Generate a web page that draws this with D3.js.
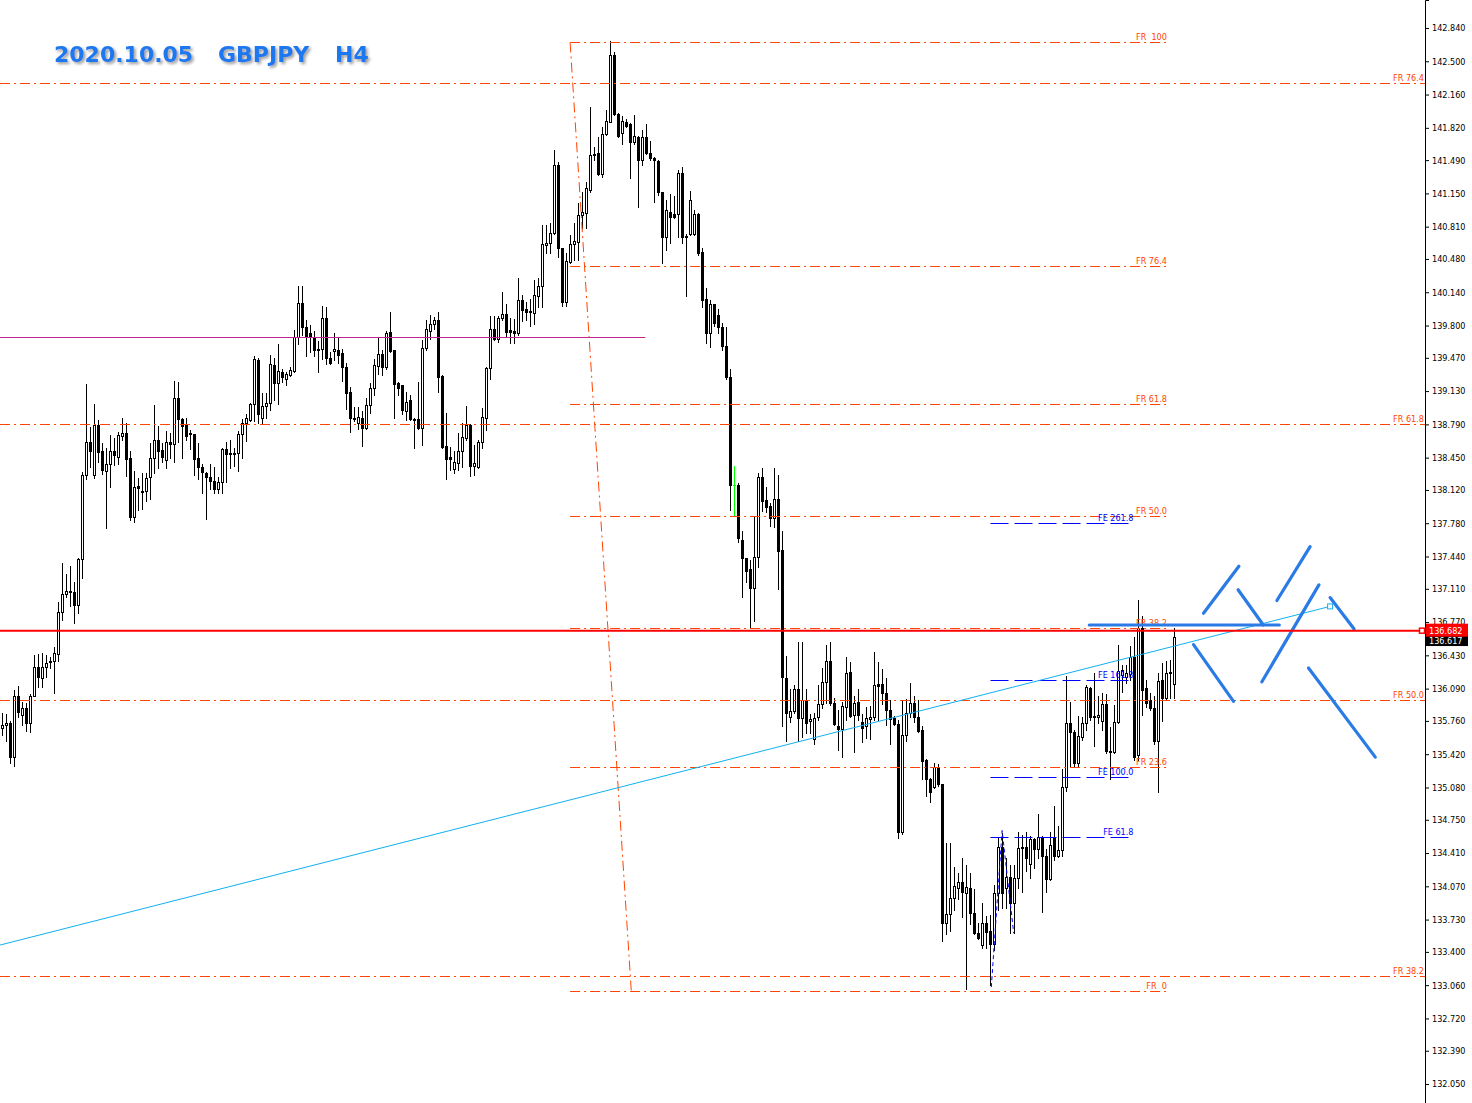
<!DOCTYPE html>
<html><head><meta charset="utf-8">
<script src="https://cdn.jsdelivr.net/npm/d3@7"></script>
<style>html,body{margin:0;padding:0;background:#fff;overflow:hidden}
text{white-space:pre}</style>
</head><body><svg id="c" width="1472" height="1103"></svg>
<script>
// ---------------- data ----------------
const ohlc = [
[135.69,135.84,135.62,135.72],[135.72,135.83,135.55,135.74],[135.74,135.76,135.33,135.39],[135.39,136.08,135.30,136.01],
[136.01,136.12,135.80,135.85],[135.82,135.95,135.72,135.89],[135.89,135.94,135.66,135.74],[135.74,136.03,135.65,136.01],
[136.01,136.43,136.01,136.31],[136.31,136.44,136.11,136.21],[136.20,136.45,136.11,136.31],[136.31,136.43,136.21,136.35],
[136.37,136.41,136.30,136.36],[136.37,136.52,136.05,136.45],[136.44,136.98,136.37,136.87],[136.87,137.37,136.79,137.06],
[137.06,137.26,137.03,137.09],[137.09,137.34,136.93,137.08],[137.08,137.18,136.76,136.94],[136.94,137.42,136.86,137.41],
[137.41,138.30,137.22,138.27],[138.27,139.20,138.23,138.61],[138.61,138.76,138.35,138.52],[138.27,139.00,138.24,138.78],
[138.78,138.83,138.41,138.51],[138.52,138.60,138.28,138.32],[138.31,138.55,137.73,138.38],[138.38,138.68,138.15,138.52],
[138.52,138.65,138.37,138.48],[138.46,138.71,138.39,138.68],[138.67,138.86,138.63,138.70],[138.70,138.80,138.26,138.44],
[138.45,138.52,137.81,137.84],[137.84,138.31,137.79,138.15],[138.16,138.24,137.92,138.14],[138.11,138.29,137.93,138.10],
[138.11,138.29,138.01,138.24],[138.25,138.60,138.03,138.45],[138.45,138.99,138.29,138.63],[138.63,138.77,138.34,138.52],
[138.53,138.60,138.41,138.46],[138.43,138.72,138.34,138.61],[138.61,138.70,138.45,138.59],[138.59,139.23,138.41,139.06],
[139.06,139.22,138.61,138.84],[138.84,138.86,138.45,138.77],[138.78,138.85,138.63,138.67],[138.70,138.73,138.54,138.69],
[138.69,138.69,138.27,138.44],[138.45,138.60,138.23,138.35],[138.35,138.39,138.09,138.30],[138.29,138.30,137.82,138.25],
[138.25,138.38,138.13,138.21],[138.21,138.35,138.09,138.13],[138.13,138.25,138.09,138.20],[138.20,138.55,138.09,138.54],
[138.54,138.61,138.20,138.49],[138.50,138.63,138.34,138.49],[138.50,138.55,138.36,138.49],[138.50,138.72,138.31,138.69],
[138.69,138.84,138.45,138.80],[138.80,138.90,138.62,138.85],[138.83,139.01,138.82,139.00],[139.00,139.49,138.82,139.46],
[139.45,139.47,138.80,138.90],[138.86,139.11,138.80,138.98],[138.98,139.11,138.85,139.01],[139.01,139.50,138.94,139.41],
[139.40,139.47,139.04,139.21],[139.21,139.61,139.00,139.34],[139.33,139.36,139.22,139.27],[139.25,139.33,139.19,139.30],
[139.29,139.38,139.28,139.35],[139.34,139.75,139.32,139.68],[139.68,140.20,139.61,140.03],[140.03,140.20,139.70,139.78],
[139.78,139.86,139.49,139.69],[139.72,139.81,139.53,139.68],[139.68,139.74,139.49,139.55],[139.56,139.64,139.33,139.55],
[139.56,140.00,139.46,139.88],[139.88,139.99,139.41,139.47],[139.47,139.53,139.41,139.42],[139.54,139.72,139.45,139.56],
[139.55,139.67,139.42,139.50],[139.52,139.56,139.23,139.38],[139.38,139.42,138.95,139.11],[139.12,139.17,138.71,138.85],
[138.84,138.97,138.82,138.86],[138.80,138.97,138.74,138.87],[138.86,138.93,138.57,138.75],[138.75,139.06,138.74,138.99],
[138.99,139.21,138.91,139.16],[139.16,139.46,139.09,139.40],[139.39,139.68,139.30,139.51],[139.51,139.55,139.29,139.38],
[139.38,139.74,139.36,139.72],[139.73,139.94,139.53,139.54],[139.55,139.55,138.85,139.20],[139.21,139.22,139.09,139.16],
[139.19,139.19,138.90,138.94],[138.93,139.12,138.83,139.02],[139.04,139.09,138.83,138.84],[138.84,138.85,138.55,138.83],
[138.84,139.22,138.74,138.75],[138.75,139.65,138.58,139.57],[139.57,139.86,139.55,139.76],[139.74,139.91,139.66,139.82],
[139.82,139.89,139.76,139.86],[139.86,139.94,139.12,139.27],[139.28,139.29,138.55,138.56],[138.57,138.91,138.23,138.44],
[138.46,138.56,138.32,138.44],[138.33,138.52,138.29,138.41],[138.40,138.70,138.32,138.52],[138.52,138.80,138.35,138.66],
[138.65,138.98,138.63,138.78],[138.78,138.79,138.26,138.36],[138.36,138.58,138.27,138.40],[138.35,138.63,138.34,138.61],
[138.61,138.96,138.55,138.87],[138.86,139.38,138.73,139.37],[139.37,139.90,139.25,139.76],[139.76,139.90,139.65,139.66],
[139.66,139.90,139.63,139.88],[139.88,140.14,139.86,139.92],[139.92,140.02,139.68,139.73],[139.75,139.88,139.62,139.73],
[139.74,139.87,139.62,139.72],[139.72,140.29,139.70,140.06],[140.06,140.11,139.85,139.96],[139.97,140.04,139.86,139.94],
[139.95,140.07,139.80,139.94],[139.93,140.27,139.82,140.11],[140.10,140.29,139.99,140.20],[140.20,140.83,139.99,140.63],
[140.62,140.83,140.54,140.64],[140.64,140.85,140.54,140.75],[140.75,141.59,140.73,141.44],[141.44,141.47,140.50,140.59],
[140.59,140.59,140.00,140.04],[140.04,140.54,140.00,140.46],[140.45,140.72,140.44,140.63],[140.63,140.85,140.47,140.66],
[140.65,141.05,140.47,140.93],[140.93,141.16,140.80,140.96],[140.95,141.27,140.80,141.20],[141.18,142.03,141.16,141.54],
[141.54,141.62,141.49,141.55],[141.56,141.73,141.34,141.35],[141.35,141.83,141.32,141.76],[141.76,142.00,141.75,141.89],
[141.88,142.71,141.88,142.56],[142.56,142.59,141.95,141.96],[141.96,141.97,141.73,141.74],[141.77,141.94,141.65,141.89],
[141.88,141.91,141.83,141.84],[141.86,141.87,141.31,141.67],[141.67,141.95,141.65,141.74],[141.73,141.74,141.01,141.49],
[141.49,141.80,141.44,141.73],[141.73,141.86,141.55,141.56],[141.56,141.69,141.49,141.51],[141.51,141.52,141.06,141.49],
[141.48,141.49,141.13,141.16],[141.16,141.16,140.44,140.70],[140.70,141.08,140.57,140.98],[140.96,141.14,140.64,140.91],
[140.94,141.12,140.90,140.91],[140.94,141.39,140.70,141.36],[141.36,141.42,140.64,140.70],[140.70,140.74,140.10,140.71],
[140.74,141.17,140.72,141.08],[140.74,140.98,140.72,140.94],[140.94,140.95,140.52,140.54],[140.55,140.59,139.99,140.06],
[140.07,140.18,139.62,139.72],[139.72,140.06,139.58,140.02],[140.02,140.02,139.80,139.83],[139.91,139.97,139.72,139.78],
[139.78,139.83,139.55,139.59],[139.59,139.78,139.25,139.27],[139.27,139.36,137.91,138.17],[138.17,138.36,137.85,138.17],
[138.17,138.19,137.59,137.63],[137.61,137.70,137.03,137.42],[137.42,137.42,137.18,137.29],[137.31,137.40,136.71,137.12],
[137.12,137.84,136.78,137.43],[137.43,138.29,137.33,138.25],[138.25,138.34,137.90,138.01],[138.02,138.15,137.89,137.95],
[137.96,137.99,137.75,137.83],[137.83,138.34,137.74,138.03],[138.03,138.27,137.11,137.50],[137.51,137.70,135.71,136.21],
[136.20,136.42,135.55,135.84],[135.80,136.09,135.75,135.86],[135.86,136.13,135.84,136.09],[136.09,136.57,135.55,135.79],
[135.79,136.57,135.60,135.97],[135.97,136.09,135.64,135.74],[135.76,135.83,135.64,135.78],[135.58,135.84,135.52,135.79],
[135.80,136.13,135.77,135.93],[135.93,136.30,135.89,136.16],[136.16,136.54,135.94,136.37],[136.37,136.57,135.92,135.94],
[135.94,135.99,135.72,135.73],[135.71,135.87,135.46,135.68],[135.68,135.95,135.39,135.91],[135.90,136.41,135.77,136.25],
[136.26,136.36,135.80,135.81],[135.82,136.01,135.44,135.94],[135.95,136.09,135.77,135.82],[135.75,135.83,135.54,135.69],
[135.71,135.90,135.59,135.79],[135.78,135.91,135.58,135.80],[135.80,136.46,135.77,136.13],[136.14,136.36,135.77,136.12],
[136.14,136.29,135.93,136.05],[136.05,136.20,135.72,135.87],[135.87,135.97,135.52,135.78],[135.79,135.81,135.72,135.73],
[135.73,135.77,134.56,134.63],[134.63,135.97,134.60,135.62],[135.62,135.98,135.55,135.84],[135.84,136.15,135.80,135.94],
[135.94,136.01,135.75,135.80],[135.80,135.97,135.65,135.66],[135.67,135.71,135.17,135.35],[135.36,135.37,134.99,135.17],
[135.17,135.18,134.93,135.03],[135.08,135.33,135.07,135.29],[135.29,135.32,135.09,135.12],[135.12,135.12,133.51,133.70],
[133.70,134.51,133.58,133.79],[133.79,134.51,133.61,133.95],[133.95,134.27,133.83,134.07],[134.05,134.21,133.94,134.11],
[134.11,134.36,133.76,134.01],[134.00,134.29,133.02,134.06],[134.05,134.21,133.68,133.80],[133.80,134.04,133.58,133.59],
[133.59,133.70,133.53,133.54],[133.47,133.90,133.44,133.70],[133.70,133.77,133.44,133.60],[133.61,133.78,133.06,133.48],
[133.48,134.08,133.42,134.00],[134.00,134.57,133.83,134.47],[134.47,134.61,133.85,134.00],[134.05,134.36,133.85,134.17],
[134.17,134.29,133.59,133.90],[133.90,134.29,133.59,134.16],[134.16,134.63,134.05,134.46],[134.46,134.59,134.01,134.47],
[134.47,134.63,134.23,134.36],[134.30,134.58,134.16,134.55],[134.55,134.56,134.26,134.45],[134.45,134.81,134.36,134.57],
[134.57,134.58,133.81,134.38],[134.38,134.45,134.01,134.14],[134.14,134.63,134.13,134.49],[134.57,134.89,134.34,134.38],
[134.38,134.69,134.37,134.44],[134.44,135.27,134.38,135.08],[135.08,136.22,135.04,135.74],[135.74,135.95,135.30,135.65],
[135.65,135.67,135.30,135.33],[135.33,135.81,135.29,135.61],[135.60,135.80,135.57,135.74],[135.74,136.13,135.67,136.11],
[136.10,136.11,135.77,135.80],[135.81,136.25,135.50,135.80],[135.80,136.01,135.74,135.82],[135.76,136.05,135.67,135.93],
[135.93,136.03,135.43,135.45],[135.45,135.70,135.17,135.44],[135.44,135.92,135.43,135.75],[135.75,136.54,135.74,136.27],
[136.23,136.33,136.06,136.28],[136.21,136.33,136.15,136.25],[136.24,136.53,136.18,136.41],[136.41,136.62,135.36,135.39],
[135.41,137.00,135.36,136.71],[136.71,136.83,135.82,136.08],[136.10,136.18,135.90,135.94],[135.97,136.05,135.87,135.89],
[135.89,136.01,135.52,135.55],[135.55,136.25,135.03,136.17],[136.18,136.35,135.76,135.99],[135.99,136.37,135.97,136.25],
[136.25,136.38,135.99,136.26],[136.14,136.71,135.99,136.62]
];
const tickLabels = ["142.840","142.500","142.160","141.820","141.490","141.150","140.810","140.480","140.140","139.800",
  "139.470","139.130","138.790","138.450","138.120","137.780","137.440","137.110","136.770","136.430","136.090","135.760",
  "135.420","135.080","134.750","134.410","134.070","133.730","133.400","133.060","132.720","132.390","132.050"];
const titleParts = ["2020.10.05","GBPJPY","H4"];
const priceRange = [131.856, 143.126];
const askPrice = 136.682;
const bidPrice = 136.617;
// long-term fibo (levels run across the whole chart)
const fibWideLow = 124.02, fibWideHigh = 147.92;
const fibWideRatios = [38.2, 50.0, 61.8, 76.4];
const fibWideLabels = ["FR 38.2", "FR 50.0", "FR 61.8", "FR 76.4"];
// recent fibo retracement (high bar -> low bar)
const fibHigh = [141.9, 142.70];   // [bar index, price]
const fibLow = [157.2, 133.00];
const fibEndIdx = 291.6;
const fibRatios = [0, 23.6, 38.2, 50.0, 61.8, 76.4, 100];
const fibLabels = ["FR  0", "FR 23.6", "FR 38.2", "FR 50.0", "FR 61.8", "FR 76.4", "FR  100"];
// fibo expansion anchors
const feA = [247.2, 133.04], feB = [249.9, 134.64], feC = [252.8, 133.59];
const feStartIdx = 247, feEndIdx = 282;
const feRatios = [61.8, 100.0, 161.8, 261.8];
const feLabels = ["FE 61.8", "FE 100.0", "FE 161.8", "FE 261.8"];
// other objects
const hLinePrice = 139.685, hLineEndIdx = 160.7;
const trendLine = [[-0.6, 133.47], [331.9, 136.93]];
const scenarioLines = [
  [271.7, 136.74, 319.2, 136.74],
  [300.25, 136.86, 309.1, 137.34],
  [308.9, 137.10, 315.2, 136.74],
  [318.6, 136.99, 326.9, 137.54],
  [314.85, 136.16, 329.1, 137.15],
  [331.9, 137.02, 337.9, 136.70],
  [297.75, 136.54, 307.75, 135.96],
  [326.5, 136.30, 343.2, 135.39]
];

// ---------------- drawing ----------------
const W = 1472, H = 1103, AX = 1425;
const svg = d3.select('#c');
svg.append('rect').attr('width', W).attr('height', H).attr('fill', '#fff');
const x = d3.scaleLinear().domain([0, ohlc.length - 1]).range([2.5, 2.5 + 4 * (ohlc.length - 1)]);
const y = d3.scaleLinear().domain(priceRange).range([H, 0]);
const cy = p => Math.round(y(p)) + 0.5;
const FONT = "'DejaVu Sans', Verdana, sans-serif";
const ORANGE = '#ff4500';

const defs = svg.append('defs');
defs.append('clipPath').attr('id', 'plot').append('rect').attr('width', AX).attr('height', H);
const f = defs.append('filter').attr('id', 'sh').attr('x', '-10%').attr('y', '-30%').attr('width', '130%').attr('height', '180%');
f.append('feDropShadow').attr('dx', 2).attr('dy', 2).attr('stdDeviation', 1.4).attr('flood-color', '#7a7a7a').attr('flood-opacity', 0.75);

const plot = svg.append('g').attr('clip-path', 'url(#plot)');

// candles
const cg = plot.append('g');
cg.selectAll('line.wick').data(ohlc).join('line').attr('class', 'wick')
  .attr('x1', (d, i) => x(i)).attr('x2', (d, i) => x(i))
  .attr('y1', d => Math.round(y(d[1]))).attr('y2', d => Math.round(y(d[2])) + 1)
  .attr('stroke', d => d[0] === d[3] ? '#00ff00' : '#000').attr('stroke-width', 1);
cg.selectAll('rect.body').data(ohlc.map((d, i) => ({d, i})).filter(e => e.d[0] !== e.d[3])).join('rect')
  .attr('class', 'body')
  .attr('x', e => x(e.i) - 1).attr('width', 2)
  .attr('y', e => cy(Math.max(e.d[0], e.d[3])))
  .attr('height', e => Math.max(0, Math.round(y(Math.min(e.d[0], e.d[3]))) - Math.round(y(Math.max(e.d[0], e.d[3])))))
  .attr('fill', e => e.d[3] > e.d[0] ? '#fff' : '#000')
  .attr('stroke', '#000').attr('stroke-width', 1);
cg.selectAll('line.doji').data(ohlc.map((d, i) => ({d, i})).filter(e => e.d[0] === e.d[3])).join('line')
  .attr('x1', e => x(e.i) - 1.5).attr('x2', e => x(e.i) + 1.5)
  .attr('y1', e => cy(e.d[0])).attr('y2', e => cy(e.d[0]))
  .attr('stroke', '#00ff00');

// horizontal magenta line
plot.append('line').attr('x1', 0).attr('x2', x(hLineEndIdx))
  .attr('y1', cy(hLinePrice)).attr('y2', cy(hLinePrice))
  .attr('stroke', '#c0268f').attr('stroke-width', 1);

const DASHDOT = '10,4,2,4';
// wide fibo
fibWideRatios.forEach((r, k) => {
  const p = fibWideLow + (fibWideHigh - fibWideLow) * r / 100;
  plot.append('line').attr('x1', 0).attr('x2', AX).attr('y1', cy(p)).attr('y2', cy(p))
    .attr('stroke', ORANGE).attr('stroke-dasharray', DASHDOT);
  svg.append('text').attr('x', AX - 1).attr('y', cy(p) - 3).attr('text-anchor', 'end')
    .attr('font-family', FONT).attr('font-stretch', 'condensed').attr('font-size', 9).attr('fill', ORANGE)
    .text(fibWideLabels[k]);
});

// recent fibo
plot.append('line').attr('x1', x(fibHigh[0])).attr('y1', cy(fibHigh[1]))
  .attr('x2', x(fibLow[0])).attr('y2', cy(fibLow[1]))
  .attr('stroke', ORANGE).attr('stroke-dasharray', DASHDOT);
fibRatios.forEach((r, k) => {
  const p = fibLow[1] + (fibHigh[1] - fibLow[1]) * r / 100;
  plot.append('line').attr('x1', x(fibHigh[0])).attr('x2', x(fibEndIdx)).attr('y1', cy(p)).attr('y2', cy(p))
    .attr('stroke', ORANGE).attr('stroke-dasharray', DASHDOT);
  plot.append('text').attr('x', x(fibEndIdx) - 2).attr('y', cy(p) - 3).attr('text-anchor', 'end')
    .attr('font-family', FONT).attr('font-stretch', 'condensed').attr('font-size', 9).attr('fill', ORANGE)
    .text(fibLabels[k]);
});

// fibo expansion
plot.append('polyline').attr('points', [feA, feB, feC].map(pt => x(pt[0]) + ',' + y(pt[1])).join(' '))
  .attr('fill', 'none').attr('stroke', '#0000ff').attr('stroke-dasharray', '4,3');
feRatios.forEach((r, k) => {
  const p = feC[1] + (feB[1] - feA[1]) * r / 100;
  plot.append('line').attr('x1', x(feStartIdx)).attr('x2', x(feEndIdx)).attr('y1', cy(p)).attr('y2', cy(p))
    .attr('stroke', '#0000ff').attr('stroke-dasharray', '18,6');
  plot.append('text').attr('x', x(feEndIdx) + 3).attr('y', cy(p) - 3).attr('text-anchor', 'end')
    .attr('font-family', FONT).attr('font-stretch', 'condensed').attr('font-size', 9).attr('fill', '#0000ff')
    .text(feLabels[k]);
});

// trend line
plot.append('line').attr('x1', x(trendLine[0][0])).attr('y1', y(trendLine[0][1]))
  .attr('x2', x(trendLine[1][0])).attr('y2', y(trendLine[1][1]))
  .attr('stroke', '#10b0f0').attr('stroke-width', 1);
plot.append('rect').attr('x', x(trendLine[1][0]) - 2.5).attr('y', y(trendLine[1][1]) - 2.5)
  .attr('width', 5).attr('height', 5).attr('fill', '#fff').attr('stroke', '#10b0f0');

// scenario drawing lines
plot.selectAll('line.scn').data(scenarioLines).join('line').attr('class', 'scn')
  .attr('x1', d => x(d[0])).attr('y1', d => y(d[1])).attr('x2', d => x(d[2])).attr('y2', d => y(d[3]))
  .attr('stroke', '#2a7be6').attr('stroke-width', 3.2).attr('stroke-linecap', 'round');

// ask line
plot.append('line').attr('x1', 0).attr('x2', AX).attr('y1', y(askPrice)).attr('y2', y(askPrice))
  .attr('stroke', '#ff0000').attr('stroke-width', 2);

// axis
const axis = d3.axisRight(y).tickValues(tickLabels.map(Number)).tickFormat((d, i) => tickLabels[i]).tickSize(4).tickPadding(3);
const ag = svg.append('g').attr('transform', `translate(${AX},0)`).call(axis);
ag.select('.domain').attr('stroke', '#000');
ag.selectAll('text').attr('font-family', FONT).attr('font-stretch', 'condensed').attr('font-size', 9).attr('fill', '#000');

// price labels
svg.append('rect').attr('x', AX + 1).attr('y', y(bidPrice) - 3).attr('width', 42).attr('height', 12).attr('fill', '#000');
svg.append('text').attr('x', AX + 4).attr('y', y(bidPrice) + 7).attr('font-family', FONT).attr('font-stretch', 'condensed')
  .attr('font-size', 9).attr('fill', '#fff').text(bidPrice.toFixed(3));
svg.append('rect').attr('x', AX + 1).attr('y', y(askPrice) - 7).attr('width', 42).attr('height', 13).attr('fill', '#ff0000');
svg.append('text').attr('x', AX + 4).attr('y', y(askPrice) + 3.5).attr('font-family', FONT).attr('font-stretch', 'condensed')
  .attr('font-size', 9).attr('fill', '#fff').text(askPrice.toFixed(3));
svg.append('rect').attr('x', AX - 5.5).attr('y', y(askPrice) - 2.5).attr('width', 5).attr('height', 5)
  .attr('fill', '#fff').attr('stroke', '#ff0000').attr('stroke-width', 1.5);

// title
const tg = svg.append('g').attr('filter', 'url(#sh)');
const titleX = [54, 218, 335];
titleParts.forEach((t, k) => {
  tg.append('text').attr('x', titleX[k]).attr('y', 62).attr('font-family', FONT).attr('font-weight', 'bold')
    .attr('font-size', 22).attr('fill', '#1e78f0').text(t);
});
</script></body></html>
